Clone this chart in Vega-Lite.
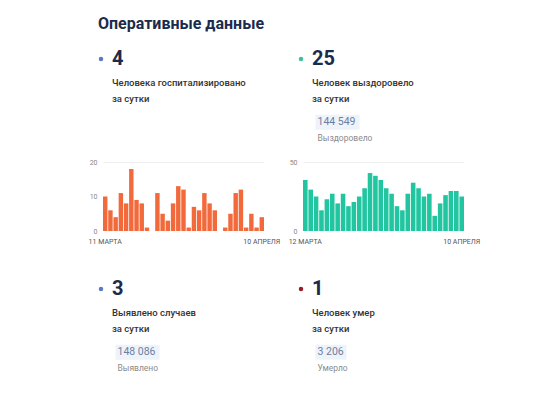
{
  "$schema": "https://vega.github.io/schema/vega-lite/v6.json",
  "padding": {"left": 88, "top": 16, "right": 5, "bottom": 5},
  "background": "white",
  "title": {
    "text": "Оперативные данные",
    "anchor": "start",
    "frame": "group",
    "font": "Roboto",
    "fontSize": 16,
    "fontWeight": "bold",
    "color": "#1b2b4b",
    "baseline": "alphabetic",
    "dx": -5,
    "offset": 4
  },
  "datasets": {
    "hosp": [
      {"date": "11 МАРТА", "value": 10}, {"date": "12 МАРТА", "value": 6}, {"date": "13 МАРТА", "value": 4},
      {"date": "14 МАРТА", "value": 11}, {"date": "15 МАРТА", "value": 8}, {"date": "16 МАРТА", "value": 18},
      {"date": "17 МАРТА", "value": 9}, {"date": "18 МАРТА", "value": 8}, {"date": "19 МАРТА", "value": 1},
      {"date": "20 МАРТА", "value": 0}, {"date": "21 МАРТА", "value": 11}, {"date": "22 МАРТА", "value": 5},
      {"date": "23 МАРТА", "value": 3}, {"date": "24 МАРТА", "value": 8}, {"date": "25 МАРТА", "value": 13},
      {"date": "26 МАРТА", "value": 12}, {"date": "27 МАРТА", "value": 1}, {"date": "28 МАРТА", "value": 7},
      {"date": "29 МАРТА", "value": 6}, {"date": "30 МАРТА", "value": 11}, {"date": "31 МАРТА", "value": 8},
      {"date": "1 АПРЕЛЯ", "value": 6}, {"date": "2 АПРЕЛЯ", "value": 0}, {"date": "3 АПРЕЛЯ", "value": 1},
      {"date": "4 АПРЕЛЯ", "value": 5}, {"date": "5 АПРЕЛЯ", "value": 11}, {"date": "6 АПРЕЛЯ", "value": 12},
      {"date": "7 АПРЕЛЯ", "value": 1}, {"date": "8 АПРЕЛЯ", "value": 5}, {"date": "9 АПРЕЛЯ", "value": 1},
      {"date": "10 АПРЕЛЯ", "value": 4}
    ],
    "recov": [
      {"date": "12 МАРТА", "value": 37}, {"date": "13 МАРТА", "value": 30}, {"date": "14 МАРТА", "value": 25},
      {"date": "15 МАРТА", "value": 15}, {"date": "16 МАРТА", "value": 23}, {"date": "17 МАРТА", "value": 27},
      {"date": "18 МАРТА", "value": 20}, {"date": "19 МАРТА", "value": 27}, {"date": "20 МАРТА", "value": 18},
      {"date": "21 МАРТА", "value": 21}, {"date": "22 МАРТА", "value": 25}, {"date": "23 МАРТА", "value": 31},
      {"date": "24 МАРТА", "value": 42}, {"date": "25 МАРТА", "value": 40}, {"date": "26 МАРТА", "value": 37},
      {"date": "27 МАРТА", "value": 31}, {"date": "28 МАРТА", "value": 27}, {"date": "29 МАРТА", "value": 18},
      {"date": "30 МАРТА", "value": 15}, {"date": "31 МАРТА", "value": 27}, {"date": "1 АПРЕЛЯ", "value": 35},
      {"date": "2 АПРЕЛЯ", "value": 31}, {"date": "3 АПРЕЛЯ", "value": 25}, {"date": "4 АПРЕЛЯ", "value": 27},
      {"date": "5 АПРЕЛЯ", "value": 11}, {"date": "6 АПРЕЛЯ", "value": 20}, {"date": "7 АПРЕЛЯ", "value": 26},
      {"date": "8 АПРЕЛЯ", "value": 29}, {"date": "9 АПРЕЛЯ", "value": 29}, {"date": "10 АПРЕЛЯ", "value": 25}
    ],
    "cards": [
      {"card": "hosp", "role": "value", "text": "4"},
      {"card": "hosp", "role": "line1", "text": "Человека госпитализировано"},
      {"card": "hosp", "role": "line2", "text": "за сутки"},
      {"card": "recov", "role": "value", "text": "25"},
      {"card": "recov", "role": "line1", "text": "Человек выздоровело"},
      {"card": "recov", "role": "line2", "text": "за сутки"},
      {"card": "recov", "role": "total", "text": "144 549"},
      {"card": "recov", "role": "caption", "text": "Выздоровело"},
      {"card": "cases", "role": "value", "text": "3"},
      {"card": "cases", "role": "line1", "text": "Выявлено случаев"},
      {"card": "cases", "role": "line2", "text": "за сутки"},
      {"card": "cases", "role": "total", "text": "148 086"},
      {"card": "cases", "role": "caption", "text": "Выявлено"},
      {"card": "deaths", "role": "value", "text": "1"},
      {"card": "deaths", "role": "line1", "text": "Человек умер"},
      {"card": "deaths", "role": "line2", "text": "за сутки"},
      {"card": "deaths", "role": "total", "text": "3 206"},
      {"card": "deaths", "role": "caption", "text": "Умерло"}
    ]
  },
  "columns": 2,
  "spacing": {"row": 24, "column": 39},
  "bounds": "flush",
  "concat": [
    {
      "width": 161, "height": 79,
      "data": {"name": "cards"},
      "transform": [{"filter": "datum.card === 'hosp'"}],
      "encoding": {
        "y": {"field": "role", "type": "nominal", "axis": null,
          "scale": {"type": "point", "padding": 0, "range": [0, 79],
            "domain": ["value", "_a", "_b", "line1", "_c", "line2", "_d", "_e", "total", "_f", "caption"]}}
      },
      "layer": [
        {
          "transform": [{"filter": "datum.role === 'value'"}],
          "mark": {"type": "point", "filled": true, "size": 20, "opacity": 1, "color": "#5b79c4"},
          "encoding": {"x": {"datum": "marker", "type": "nominal", "axis": null,
            "scale": {"type": "point", "padding": 0, "range": [-2, 20], "domain": ["marker", "_1", "label", "total", "_2"]}}}
        },
        {
          "transform": [{"filter": "datum.role === 'value'"}],
          "mark": {"type": "text", "align": "left", "baseline": "middle", "font": "Roboto", "fontSize": 20, "fontWeight": "bold", "color": "#1b2b4b"},
          "encoding": {"x": {"datum": "label", "type": "nominal"}, "text": {"field": "text"}}
        },
        {
          "transform": [{"filter": "datum.role === 'line1' || datum.role === 'line2'"}],
          "mark": {"type": "text", "align": "left", "baseline": "middle", "font": "Roboto", "fontSize": 9.5, "fontWeight": 500, "color": "#333333"},
          "encoding": {"x": {"datum": "label", "type": "nominal"}, "text": {"field": "text"}}
        }
      ]
    },
    {
      "width": 161, "height": 79,
      "data": {"name": "cards"},
      "transform": [{"filter": "datum.card === 'recov'"}],
      "encoding": {
        "y": {"field": "role", "type": "nominal", "axis": null,
          "scale": {"type": "point", "padding": 0, "range": [0, 79],
            "domain": ["value", "_a", "_b", "line1", "_c", "line2", "_d", "_e", "total", "_f", "caption"]}}
      },
      "layer": [
        {
          "transform": [{"filter": "datum.role === 'value'"}],
          "mark": {"type": "point", "filled": true, "size": 20, "opacity": 1, "color": "#3fbf9c"},
          "encoding": {"x": {"datum": "marker", "type": "nominal", "axis": null,
            "scale": {"type": "point", "padding": 0, "range": [-2, 20], "domain": ["marker", "_1", "label", "total", "_2"]}}}
        },
        {
          "transform": [{"filter": "datum.role === 'value'"}],
          "mark": {"type": "text", "align": "left", "baseline": "middle", "font": "Roboto", "fontSize": 20, "fontWeight": "bold", "color": "#1b2b4b"},
          "encoding": {"x": {"datum": "label", "type": "nominal"}, "text": {"field": "text"}}
        },
        {
          "transform": [{"filter": "datum.role === 'line1' || datum.role === 'line2'"}],
          "mark": {"type": "text", "align": "left", "baseline": "middle", "font": "Roboto", "fontSize": 9.5, "fontWeight": 500, "color": "#333333"},
          "encoding": {"x": {"datum": "label", "type": "nominal"}, "text": {"field": "text"}}
        },
        {
          "transform": [{"filter": "datum.role === 'total'"}],
          "mark": {"type": "point", "filled": true, "opacity": 1, "strokeWidth": 0, "size": 1936, "color": "#eef3fa",
            "shape": "M-0.09,-0.34H1.91V0.34H-0.09Z"},
          "encoding": {"x": {"datum": "total", "type": "nominal"}}
        },
        {
          "transform": [{"filter": "datum.role === 'total'"}],
          "mark": {"type": "text", "align": "left", "baseline": "middle", "font": "Roboto", "fontSize": 10.5, "color": "#6b7fa3"},
          "encoding": {"x": {"datum": "total", "type": "nominal"}, "text": {"field": "text"}}
        },
        {
          "transform": [{"filter": "datum.role === 'caption'"}],
          "mark": {"type": "text", "align": "left", "baseline": "middle", "font": "Roboto", "fontSize": 8.5, "color": "#8c8c8c"},
          "encoding": {"x": {"datum": "total", "type": "nominal"}, "text": {"field": "text"}}
        }
      ]
    },
    {
      "width": 161, "height": 69,
      "data": {"name": "hosp"},
      "mark": {"type": "bar", "color": "#f26a3c"},
      "encoding": {
        "x": {"field": "date", "type": "ordinal", "sort": null,
          "scale": {"paddingInner": 0.15, "paddingOuter": 0},
          "axis": {"values": ["11 МАРТА", "10 АПРЕЛЯ"], "title": null, "ticks": false, "domain": false, "labelAngle": 0, "labelFontSize": 7, "labelColor": "#555555", "labelPadding": 6, "labelFont": "Roboto"}},
        "y": {"field": "value", "type": "quantitative",
          "scale": {"domain": [0, 20], "nice": false},
          "axis": {"values": [0, 10, 20], "title": null, "ticks": false, "domain": false, "labelFontSize": 7, "labelColor": "#888888", "labelPadding": 6, "labelFont": "Roboto", "gridColor": "#eeeeee",
            "gridOpacity": {"condition": {"test": "datum.value === 20", "value": 1}, "value": 0}}}
      }
    },
    {
      "width": 161, "height": 69,
      "data": {"name": "recov"},
      "mark": {"type": "bar", "color": "#21c6a1"},
      "encoding": {
        "x": {"field": "date", "type": "ordinal", "sort": null,
          "scale": {"paddingInner": 0.15, "paddingOuter": 0},
          "axis": {"values": ["12 МАРТА", "10 АПРЕЛЯ"], "title": null, "ticks": false, "domain": false, "labelAngle": 0, "labelFontSize": 7, "labelColor": "#555555", "labelPadding": 6, "labelFont": "Roboto"}},
        "y": {"field": "value", "type": "quantitative",
          "scale": {"domain": [0, 50], "nice": false},
          "axis": {"values": [0, 50], "title": null, "ticks": false, "domain": false, "labelFontSize": 7, "labelColor": "#888888", "labelPadding": 6, "labelFont": "Roboto", "gridColor": "#eeeeee",
            "gridOpacity": {"condition": {"test": "datum.value === 50", "value": 1}, "value": 0}}}
      }
    },
    {
      "width": 161, "height": 113,
      "data": {"name": "cards"},
      "transform": [{"filter": "datum.card === 'cases'"}],
      "encoding": {
        "y": {"field": "role", "type": "nominal", "axis": null,
          "scale": {"type": "point", "padding": 0, "range": [34, 113],
            "domain": ["value", "_a", "_b", "line1", "_c", "line2", "_d", "_e", "total", "_f", "caption"]}}
      },
      "layer": [
        {
          "transform": [{"filter": "datum.role === 'value'"}],
          "mark": {"type": "point", "filled": true, "size": 20, "opacity": 1, "color": "#5b79c4"},
          "encoding": {"x": {"datum": "marker", "type": "nominal", "axis": null,
            "scale": {"type": "point", "padding": 0, "range": [-2, 20], "domain": ["marker", "_1", "label", "total", "_2"]}}}
        },
        {
          "transform": [{"filter": "datum.role === 'value'"}],
          "mark": {"type": "text", "align": "left", "baseline": "middle", "font": "Roboto", "fontSize": 20, "fontWeight": "bold", "color": "#1b2b4b"},
          "encoding": {"x": {"datum": "label", "type": "nominal"}, "text": {"field": "text"}}
        },
        {
          "transform": [{"filter": "datum.role === 'line1' || datum.role === 'line2'"}],
          "mark": {"type": "text", "align": "left", "baseline": "middle", "font": "Roboto", "fontSize": 9.5, "fontWeight": 500, "color": "#333333"},
          "encoding": {"x": {"datum": "label", "type": "nominal"}, "text": {"field": "text"}}
        },
        {
          "transform": [{"filter": "datum.role === 'total'"}],
          "mark": {"type": "point", "filled": true, "opacity": 1, "strokeWidth": 0, "size": 1936, "color": "#eef3fa",
            "shape": "M-0.09,-0.34H1.91V0.34H-0.09Z"},
          "encoding": {"x": {"datum": "total", "type": "nominal"}}
        },
        {
          "transform": [{"filter": "datum.role === 'total'"}],
          "mark": {"type": "text", "align": "left", "baseline": "middle", "font": "Roboto", "fontSize": 10.5, "color": "#6b7fa3"},
          "encoding": {"x": {"datum": "total", "type": "nominal"}, "text": {"field": "text"}}
        },
        {
          "transform": [{"filter": "datum.role === 'caption'"}],
          "mark": {"type": "text", "align": "left", "baseline": "middle", "font": "Roboto", "fontSize": 8.5, "color": "#8c8c8c"},
          "encoding": {"x": {"datum": "total", "type": "nominal"}, "text": {"field": "text"}}
        }
      ]
    },
    {
      "width": 161, "height": 113,
      "data": {"name": "cards"},
      "transform": [{"filter": "datum.card === 'deaths'"}],
      "encoding": {
        "y": {"field": "role", "type": "nominal", "axis": null,
          "scale": {"type": "point", "padding": 0, "range": [34, 113],
            "domain": ["value", "_a", "_b", "line1", "_c", "line2", "_d", "_e", "total", "_f", "caption"]}}
      },
      "layer": [
        {
          "transform": [{"filter": "datum.role === 'value'"}],
          "mark": {"type": "point", "filled": true, "size": 20, "opacity": 1, "color": "#9b1d22"},
          "encoding": {"x": {"datum": "marker", "type": "nominal", "axis": null,
            "scale": {"type": "point", "padding": 0, "range": [-2, 20], "domain": ["marker", "_1", "label", "total", "_2"]}}}
        },
        {
          "transform": [{"filter": "datum.role === 'value'"}],
          "mark": {"type": "text", "align": "left", "baseline": "middle", "font": "Roboto", "fontSize": 20, "fontWeight": "bold", "color": "#1b2b4b"},
          "encoding": {"x": {"datum": "label", "type": "nominal"}, "text": {"field": "text"}}
        },
        {
          "transform": [{"filter": "datum.role === 'line1' || datum.role === 'line2'"}],
          "mark": {"type": "text", "align": "left", "baseline": "middle", "font": "Roboto", "fontSize": 9.5, "fontWeight": 500, "color": "#333333"},
          "encoding": {"x": {"datum": "label", "type": "nominal"}, "text": {"field": "text"}}
        },
        {
          "transform": [{"filter": "datum.role === 'total'"}],
          "mark": {"type": "point", "filled": true, "opacity": 1, "strokeWidth": 0, "size": 961, "color": "#eef3fa",
            "shape": "M-0.13,-0.48H1.87V0.48H-0.13Z"},
          "encoding": {"x": {"datum": "total", "type": "nominal"}}
        },
        {
          "transform": [{"filter": "datum.role === 'total'"}],
          "mark": {"type": "text", "align": "left", "baseline": "middle", "font": "Roboto", "fontSize": 10.5, "color": "#6b7fa3"},
          "encoding": {"x": {"datum": "total", "type": "nominal"}, "text": {"field": "text"}}
        },
        {
          "transform": [{"filter": "datum.role === 'caption'"}],
          "mark": {"type": "text", "align": "left", "baseline": "middle", "font": "Roboto", "fontSize": 8.5, "color": "#8c8c8c"},
          "encoding": {"x": {"datum": "total", "type": "nominal"}, "text": {"field": "text"}}
        }
      ]
    }
  ],
  "config": {
    "view": {"stroke": null},
    "font": "Roboto"
  }
}
